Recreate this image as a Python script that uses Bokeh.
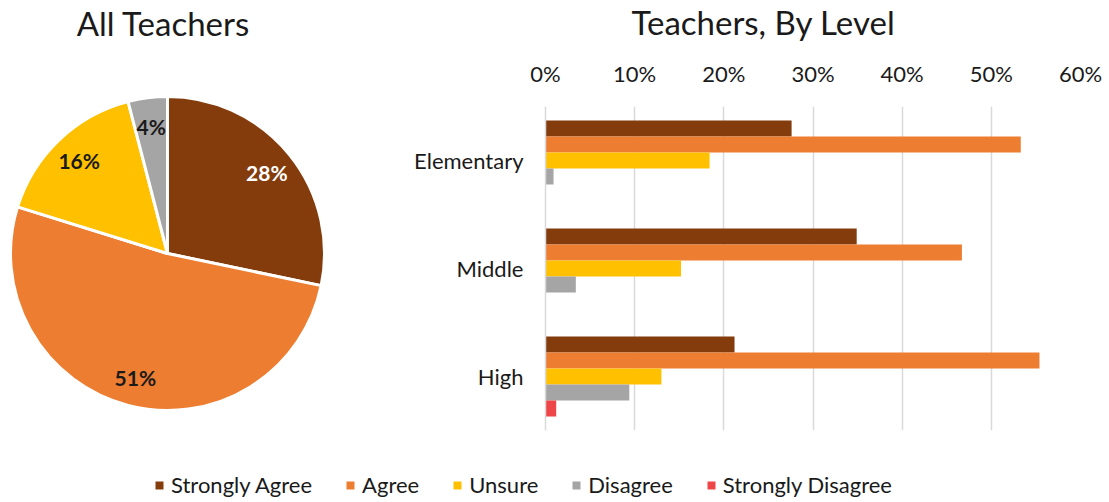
import math
from bokeh.plotting import figure
from bokeh.layouts import column, row
from bokeh.models import (ColumnDataSource, FactorRange, Range1d, FixedTicker,
                          NumeralTickFormatter, Legend, LegendItem)
from bokeh.transform import dodge
from bokeh.core.properties import value
from bokeh.embed import file_html
from bokeh.resources import INLINE

# ---------------- data ----------------
categories = ["Strongly Agree", "Agree", "Unsure", "Disagree", "Strongly Disagree"]
colors = ["#843C0C", "#ED7D31", "#FFC000", "#A5A5A5", "#EE4648"]

pie_labels = ["28%", "51%", "16%", "4%"]
pie_values = [28, 51, 16, 4]

levels = ["Elementary", "Middle", "High"]
strongly_agree = [0.276, 0.349, 0.212]
agree = [0.533, 0.467, 0.554]
unsure = [0.184, 0.152, 0.130]
disagree = [0.009, 0.034, 0.094]
strongly_disagree = [0.0, 0.0, 0.012]

x_ticks = [0, 0.1, 0.2, 0.3, 0.4, 0.5, 0.6]

FONT = "Lato"
TXT = "#1a1a1a"
LBL = "22px"


def blank(fig):
    fig.frame_align = False
    fig.axis.visible = False
    fig.grid.visible = False
    fig.outline_line_color = None
    return fig


# ---------------- pie ----------------
PW, PH = 330, 440
pie = blank(figure(width=PW, height=PH, x_range=Range1d(0, PW), y_range=Range1d(0, PH),
                   output_backend="svg", toolbar_location=None, min_border=0))

cx, cy, R = 167, PH - 253, 157
total = sum(pie_values)
starts, ends, lx, ly = [], [], [], []
cum = 0.0
for v in pie_values:
    a0 = math.pi / 2 - 2 * math.pi * cum / total
    cum += v
    a1 = math.pi / 2 - 2 * math.pi * cum / total
    starts.append(a0)
    ends.append(a1)
    mid = (a0 + a1) / 2
    lx.append(cx + 128 * math.cos(mid))
    ly.append(cy + 128 * math.sin(mid))

pie_src = ColumnDataSource(dict(start=starts, end=ends, color=colors[:4],
                                lx=lx, ly=ly, label=pie_labels,
                                tcolor=["white", TXT, TXT, TXT]))
pie.wedge(x=cx, y=cy, radius=R, start_angle="start", end_angle="end",
          direction="clock", fill_color="color", line_color="white",
          line_width=3, source=pie_src)
pie.text(x="lx", y="ly", text="label", text_color="tcolor", source=pie_src,
         text_font=value(FONT), text_font_size="21px", text_font_style="bold",
         text_align="center", text_baseline="middle")
pie.text(x=[163], y=[PH - 22], text=["All Teachers"], text_font=value(FONT),
         text_font_size="33px", text_color=TXT, text_align="center",
         text_baseline="middle")

# ---------------- bar title ----------------
BW = 779
TH = 50
tfig = blank(figure(width=BW, height=TH, x_range=Range1d(0, BW), y_range=Range1d(0, TH),
                    output_backend="svg", toolbar_location=None, min_border=0))
tfig.text(x=[433], y=[TH - 21], text=["Teachers, By Level"], text_font=value(FONT),
          text_font_size="33px", text_color=TXT, text_align="center",
          text_baseline="middle")

# ---------------- bars ----------------
BH = PH - TH
p = figure(width=BW, height=BH, y_range=FactorRange(factors=levels[::-1]),
           x_range=Range1d(0, 0.6), x_axis_location="above",
           output_backend="svg", toolbar_location=None,
           min_border_left=215, min_border_right=29, min_border_top=106 - TH,
           min_border_bottom=10)
p.frame_align = False
p.outline_line_color = None

src = ColumnDataSource(dict(level=levels, sa=strongly_agree, ag=agree, un=unsure,
                            di=disagree, sd=strongly_disagree))
bh = 16 / 108
keys = ["sa", "ag", "un", "di", "sd"]
offsets = [2 * bh, bh, 0, -bh, -2 * bh]
for k, off, c in zip(keys, offsets, colors):
    p.hbar(y=dodge("level", off, range=p.y_range), left=0, right=k,
           height=bh, fill_color=c, line_color=None, source=src)

p.xaxis.ticker = FixedTicker(ticks=x_ticks)
p.xaxis.formatter = NumeralTickFormatter(format="0%")
p.xaxis.axis_line_color = None
p.xaxis.major_tick_line_color = None
p.xaxis.minor_tick_line_color = None
p.xaxis.major_label_standoff = 14
p.xaxis.major_label_text_font = FONT
p.xaxis.major_label_text_font_size = LBL
p.xaxis.major_label_text_color = TXT

p.yaxis.axis_line_color = "#D9D9D9"
p.yaxis.axis_line_width = 1.5
p.yaxis.major_tick_line_color = None
p.yaxis.minor_tick_line_color = None
p.yaxis.major_label_standoff = 16
p.yaxis.major_label_text_font = FONT
p.yaxis.major_label_text_font_size = LBL
p.yaxis.major_label_text_color = TXT

p.xgrid.grid_line_color = "#D9D9D9"
p.xgrid.grid_line_width = 1.5
p.ygrid.grid_line_color = None

# ---------------- legend ----------------
LW, LH = 1109, 62
lg = blank(figure(width=LW, height=LH, x_range=Range1d(0, 1), y_range=Range1d(0, 1),
                  output_backend="svg", toolbar_location=None, min_border=0))
items = []
for name, c in zip(categories, colors):
    r = lg.hbar(y=[5], left=[5], right=[6], height=1, fill_color=c, line_color=None)
    items.append(LegendItem(label=name, renderers=[r]))
legend = Legend(items=items, orientation="horizontal", location=(154, 4),
                label_text_font=FONT, label_text_font_size=LBL,
                label_text_color=TXT, glyph_width=10, glyph_height=10,
                label_standoff=7, spacing=33, padding=0, margin=0,
                border_line_color=None, background_fill_alpha=0,
                label_height=20)
lg.add_layout(legend, "center")

layout = column(row(pie, column(tfig, p)), lg)
open("out.html", "w").write(file_html(layout, INLINE))
